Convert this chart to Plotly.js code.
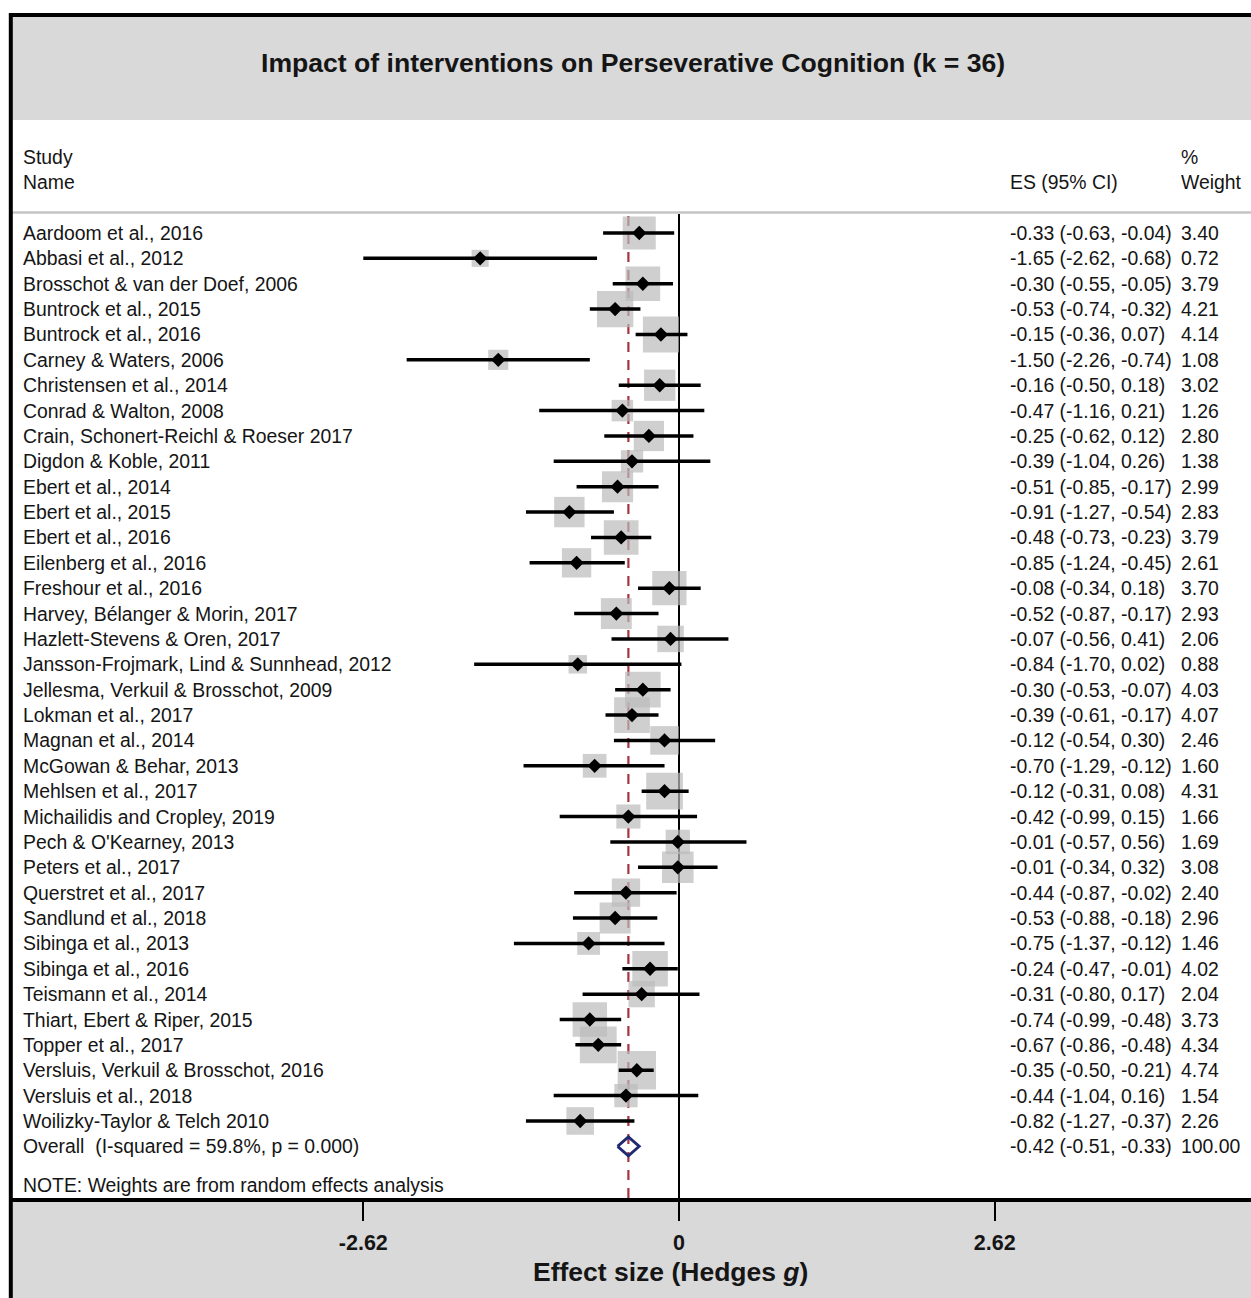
<!DOCTYPE html>
<html>
<head>
<meta charset="utf-8">
<script src="https://cdn.plot.ly/plotly-3.0.1.min.js"></script>
<style>
  html, body { margin: 0; padding: 0; background: #ffffff; }
  #chart { width: 1251px; height: 1298px; }
</style>
</head>
<body>
<div id="chart"></div>
<script>
// ---------------- DATA ----------------
const studies = [
  "Aardoom et al., 2016",
  "Abbasi et al., 2012",
  "Brosschot & van der Doef, 2006",
  "Buntrock et al., 2015",
  "Buntrock et al., 2016",
  "Carney & Waters, 2006",
  "Christensen et al., 2014",
  "Conrad & Walton, 2008",
  "Crain, Schonert-Reichl & Roeser 2017",
  "Digdon & Koble, 2011",
  "Ebert et al., 2014",
  "Ebert et al., 2015",
  "Ebert et al., 2016",
  "Eilenberg et al., 2016",
  "Freshour et al., 2016",
  "Harvey, Bélanger & Morin, 2017",
  "Hazlett-Stevens & Oren, 2017",
  "Jansson-Frojmark, Lind & Sunnhead, 2012",
  "Jellesma, Verkuil & Brosschot, 2009",
  "Lokman et al., 2017",
  "Magnan et al., 2014",
  "McGowan & Behar, 2013",
  "Mehlsen et al., 2017",
  "Michailidis and Cropley, 2019",
  "Pech & O'Kearney, 2013",
  "Peters et al., 2017",
  "Querstret et al., 2017",
  "Sandlund et al., 2018",
  "Sibinga et al., 2013",
  "Sibinga et al., 2016",
  "Teismann et al., 2014",
  "Thiart, Ebert & Riper, 2015",
  "Topper et al., 2017",
  "Versluis, Verkuil & Brosschot, 2016",
  "Versluis et al., 2018",
  "Woilizky-Taylor & Telch 2010"
];
const effectSizes = [-0.33,-1.65,-0.30,-0.53,-0.15,-1.50,-0.16,-0.47,-0.25,-0.39,-0.51,-0.91,-0.48,-0.85,-0.08,-0.52,-0.07,-0.84,-0.30,-0.39,-0.12,-0.70,-0.12,-0.42,-0.01,-0.01,-0.44,-0.53,-0.75,-0.24,-0.31,-0.74,-0.67,-0.35,-0.44,-0.82];
const ciLower = [-0.63,-2.62,-0.55,-0.74,-0.36,-2.26,-0.50,-1.16,-0.62,-1.04,-0.85,-1.27,-0.73,-1.24,-0.34,-0.87,-0.56,-1.70,-0.53,-0.61,-0.54,-1.29,-0.31,-0.99,-0.57,-0.34,-0.87,-0.88,-1.37,-0.47,-0.80,-0.99,-0.86,-0.50,-1.04,-1.27];
const ciUpper = [-0.04,-0.68,-0.05,-0.32,0.07,-0.74,0.18,0.21,0.12,0.26,-0.17,-0.54,-0.23,-0.45,0.18,-0.17,0.41,0.02,-0.07,-0.17,0.30,-0.12,0.08,0.15,0.56,0.32,-0.02,-0.18,-0.12,-0.01,0.17,-0.48,-0.48,-0.21,0.16,-0.37];
const weights = [3.40,0.72,3.79,4.21,4.14,1.08,3.02,1.26,2.80,1.38,2.99,2.83,3.79,2.61,3.70,2.93,2.06,0.88,4.03,4.07,2.46,1.60,4.31,1.66,1.69,3.08,2.40,2.96,1.46,4.02,2.04,3.73,4.34,4.74,1.54,2.26];

const overallLabel = "Overall\u00a0 (I-squared = 59.8%, p = 0.000)";
const overallES = -0.42;
const overallLower = -0.51;
const overallUpper = -0.33;
const overallWeight = 100.00;

const titleText = "Impact of interventions on Perseverative Cognition (k = 36)";
const xTitleText = "Effect size (Hedges <i>g</i>)";
const noteText = "NOTE: Weights are from random effects analysis";
const tickLabels = ["-2.62", "0", "2.62"];

// ---------------- LAYOUT HELPERS ----------------
const W = 1251, H = 1298;
const marginL = 10;
const plotW = W - marginL;
const plotH = 1198;                // plot area height (margin bottom = 100)
const rowPx = 25.371;              // pixel height of one row
const firstRowPx = 233;            // pixel centre of first study row
const yTop = -firstRowPx / rowPx;
const yBottom = yTop + plotH / rowPx;
const pxPerUnit = 120.5;
const zeroPx = 679;
const xLeft = -(zeroPx - marginL) / pxPerUnit;
const xRight = (W - zeroPx) / pxPerUnit;
const px = v => (v - marginL) / plotW;         // paper x from pixel
const py = v => (plotH - v) / plotH;           // paper y from pixel

const rows = studies.map((_, i) => i);
const overallRow = studies.length;

const fontFam = '"Liberation Sans", Arial, Helvetica, sans-serif';
const txtCol = '#151515';
const bodySize = 19.4;

// ---------------- TRACES ----------------
const boxTrace = {
  type: 'scatter', mode: 'markers',
  x: effectSizes, y: rows,
  marker: { symbol: 'square', color: '#bababa',
            size: weights.map(w => 3.5 + 16 * Math.sqrt(w)),
            line: { width: 0 } },
  hoverinfo: 'skip', showlegend: false
};
const ciTrace = {
  type: 'scatter', mode: 'markers',
  x: effectSizes, y: rows,
  error_x: { type: 'data', symmetric: false,
             array: ciUpper.map((u, i) => u - effectSizes[i]),
             arrayminus: ciLower.map((l, i) => effectSizes[i] - l),
             color: '#000000', thickness: 3.5, width: 0 },
  marker: { symbol: 'diamond', color: '#000000', size: 11, line: { width: 0 } },
  hoverinfo: 'skip', showlegend: false
};
const dh = 0.375;
const overallTrace = {
  type: 'scatter', mode: 'lines',
  x: [overallLower, overallES, overallUpper, overallES, overallLower],
  y: [overallRow, overallRow - dh, overallRow, overallRow + dh, overallRow],
  line: { color: '#1f2a72', width: 2.8 },
  hoverinfo: 'skip', showlegend: false
};

// ---------------- ANNOTATIONS ----------------
const ann = [];
function txt(x, y, text, opts) {
  ann.push(Object.assign({
    xref: 'paper', yref: 'y', x: x, y: y, text: text, showarrow: false,
    xanchor: 'left', yanchor: 'middle',
    font: { family: fontFam, size: bodySize, color: txtCol }
  }, opts || {}));
}
const colName = 21, colES = 1008, colW = 1179;
studies.forEach((s, i) => {
  txt(px(colName), i, s);
  txt(px(colES), i, effectSizes[i].toFixed(2) + ' (' + ciLower[i].toFixed(2) + ', ' + ciUpper[i].toFixed(2) + ')');
  txt(px(colW), i, weights[i].toFixed(2));
});
txt(px(colName), overallRow, overallLabel);
txt(px(colES), overallRow, overallES.toFixed(2) + ' (' + overallLower.toFixed(2) + ', ' + overallUpper.toFixed(2) + ')');
txt(px(colW), overallRow, overallWeight.toFixed(2));
// headers
txt(px(colName), -3, 'Study');
txt(px(colName), -2, 'Name');
txt(px(colES), -2, 'ES (95% CI)');
txt(px(colW), -3, '%');
txt(px(colW), -2, 'Weight');
txt(px(colName), overallRow + 1.52, noteText);
// title
ann.push({ xref: 'paper', yref: 'paper', x: px(633), y: py(63), text: '<b>' + titleText + '</b>',
  showarrow: false, xanchor: 'center', yanchor: 'middle',
  font: { family: fontFam, size: 26.6, color: txtCol } });
// axis title
ann.push({ xref: 'paper', yref: 'paper', x: px(670), y: py(1272), text: '<b>' + xTitleText + '</b>',
  showarrow: false, xanchor: 'center', yanchor: 'middle',
  font: { family: fontFam, size: 26.5, color: txtCol } });

// ---------------- SHAPES ----------------
const shapes = [
  // top grey band
  { type: 'rect', xref: 'paper', yref: 'paper', x0: px(11), x1: px(1260), y0: py(120), y1: py(16),
    fillcolor: '#d9d9d9', line: { width: 0 }, layer: 'below' },
  // bottom grey band
  { type: 'rect', xref: 'paper', yref: 'paper', x0: px(11), x1: px(1260), y0: py(1310), y1: py(1198),
    fillcolor: '#d9d9d9', line: { width: 0 }, layer: 'below' },
  // header separator
  { type: 'line', xref: 'paper', yref: 'paper', x0: px(11), x1: px(1260), y0: py(212.5), y1: py(212.5),
    line: { color: '#c4c4c4', width: 2.5 }, layer: 'below' },
  // zero line
  { type: 'line', xref: 'x', yref: 'paper', x0: 0, x1: 0, y0: 0, y1: py(214),
    line: { color: '#000000', width: 2 }, layer: 'below' },
  // overall effect dashed line
  { type: 'line', xref: 'x', yref: 'paper', x0: overallES, x1: overallES, y0: 0, y1: py(214),
    line: { color: '#a5343f', width: 2.2, dash: '10px,8px' }, layer: 'below' },
  // outer frame: top & left
  { type: 'line', xref: 'paper', yref: 'paper', x0: px(9), x1: px(1260), y0: py(15), y1: py(15),
    line: { color: '#000000', width: 4 } },
  { type: 'line', xref: 'paper', yref: 'paper', x0: px(10.8), x1: px(10.8), y0: py(13), y1: py(1310),
    line: { color: '#000000', width: 4 } }
];

const layout = {
  width: W, height: H,
  margin: { l: marginL, r: 0, t: 0, b: H - plotH, pad: 0 },
  paper_bgcolor: '#ffffff', plot_bgcolor: 'rgba(0,0,0,0)',
  font: { family: fontFam, color: txtCol },
  showlegend: false,
  xaxis: {
    range: [xLeft, xRight], fixedrange: true, automargin: false,
    showgrid: false, zeroline: false,
    showline: true, linecolor: '#000000', linewidth: 3.5,
    ticks: 'outside', ticklen: 19, tickwidth: 2, tickcolor: '#000000',
    tickvals: tickLabels.map(Number), ticktext: tickLabels,
    tickfont: { family: fontFam, size: 21.5, color: txtCol, weight: 'bold' },
    ticklabelstandoff: 4
  },
  yaxis: {
    range: [yBottom, yTop], visible: false, fixedrange: true, automargin: false,
    showgrid: false, zeroline: false
  },
  shapes: shapes,
  annotations: ann
};

Plotly.newPlot('chart', [boxTrace, ciTrace, overallTrace], layout, { staticPlot: true, displayModeBar: false });
</script>
</body>
</html>
